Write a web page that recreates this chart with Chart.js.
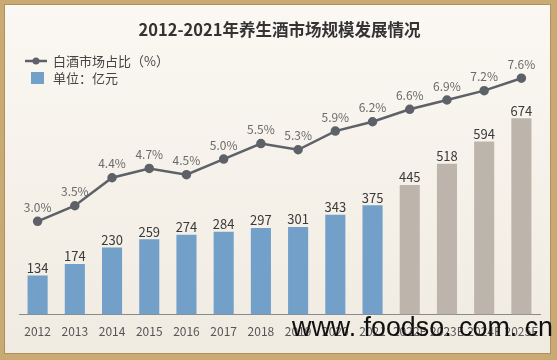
<!DOCTYPE html>
<html><head><meta charset="utf-8">
<script src="https://cdn.jsdelivr.net/npm/chart.js@4/dist/chart.umd.min.js"></script>
<style>html,body{margin:0;padding:0;background:#c9aa72;}#wrap{width:557px;height:360px;}</style>
</head><body><div id="wrap"><canvas id="c" width="557" height="360"></canvas></div>
<script>
const categories = ['2012','2013','2014','2015','2016','2017','2018','2019','2020','2021','2022E','2023E','2024E','2025E'];
const marketSize = [134,174,230,259,274,284,297,301,343,375,445,518,594,674];
const baijiuShare = [3.0,3.5,4.4,4.7,4.5,5.0,5.5,5.3,5.9,6.2,6.6,6.9,7.2,7.6];
const forecastFrom = 10;
const titleText = '2012-2021年养生酒市场规模发展情况';
const legendLine = '白酒市场占比（%）';
const legendBar = '单位：亿元';
const watermark = 'www. foodso. com. cn';

const FONT = '"Noto Sans CJK SC","Noto Sans",sans-serif';
const barColors = marketSize.map((v,i)=> i<forecastFrom ? '#72a0c8' : '#bdb5ab');

const bgPlugin = {
  id:'bg',
  beforeDraw(chart){
    const ctx = chart.ctx, W = chart.width, H = chart.height;
    ctx.save();
    ctx.fillStyle = '#c9aa72';
    ctx.fillRect(0,0,W,H);
    const g = ctx.createLinearGradient(0,0,0,H);
    g.addColorStop(0,'#fbf8f3');
    g.addColorStop(1,'#f0ebe1');
    ctx.fillStyle = g;
    ctx.fillRect(4,4,W-10,H-10);
    ctx.strokeStyle = '#b08f5a';
    ctx.lineWidth = 1;
    ctx.strokeRect(4.5,4.5,W-11,H-11);
    ctx.restore();
  },
  afterDatasetsDraw(chart){
    const ctx = chart.ctx;
    ctx.save();
    const barMeta = chart.getDatasetMeta(0);
    ctx.font = '13px ' + FONT;
    ctx.fillStyle = '#3a3a3a';
    ctx.textAlign = 'center';
    ctx.textBaseline = 'bottom';
    barMeta.data.forEach((el,i)=>{
      ctx.fillText(String(marketSize[i]), el.x, el.y - 1);
    });
    const lineMeta = chart.getDatasetMeta(1);
    ctx.font = '12px ' + FONT;
    ctx.fillStyle = '#6a6a6a';
    lineMeta.data.forEach((el,i)=>{
      ctx.fillText(baijiuShare[i].toFixed(1)+'%', el.x, el.y - 8);
    });
    ctx.strokeStyle = '#5d6168';
    ctx.lineWidth = 2.5;
    ctx.beginPath(); ctx.moveTo(25,61); ctx.lineTo(47,61); ctx.stroke();
    ctx.fillStyle = '#5d6168';
    ctx.beginPath(); ctx.arc(36,61,3.5,0,Math.PI*2); ctx.fill();
    ctx.fillStyle = '#72a0c8';
    ctx.fillRect(31,72,13,12);
    ctx.font = '13px ' + FONT;
    ctx.fillStyle = '#444';
    ctx.textAlign = 'left';
    ctx.textBaseline = 'middle';
    ctx.fillText(legendLine, 53, 61);
    ctx.fillText(legendBar, 53, 78);
    ctx.restore();
  },
  afterDraw(chart){
    const ctx = chart.ctx;
    ctx.save();
    ctx.font = '28px "Liberation Sans",sans-serif';
    ctx.fillStyle = '#111';
    ctx.textBaseline = 'alphabetic';
    ctx.textAlign = 'left';
    const w = ctx.measureText(watermark).width;
    ctx.translate(292, 336);
    ctx.scale(261 / w, 1);
    ctx.fillText(watermark, 0, 0);
    ctx.restore();
  }
};

new Chart(document.getElementById('c'), {
  data: {
    labels: categories,
    datasets: [
      { type:'bar', label: legendBar, data: marketSize, backgroundColor: barColors,
        yAxisID:'y', order:2, categoryPercentage:1.0, barPercentage:0.54 },
      { type:'line', label: legendLine, data: baijiuShare, borderColor:'#5d6168',
        backgroundColor:'#5d6168', borderWidth:2.5, pointRadius:3.5, pointHoverRadius:3.5,
        fill:false, tension:0, yAxisID:'y2', order:1 }
    ]
  },
  options: {
    responsive:false, animation:false,
    layout:{ padding:{ left:19, right:17, top:0, bottom:19 } },
    plugins:{
      legend:{ display:false },
      tooltip:{ enabled:false },
      title:{ display:true, text:titleText, color:'#333',
        font:{ family:FONT, size:16.5, weight:'bold' }, padding:{ top:20, bottom:7 } }
    },
    scales:{
      x:{ offset:true, grid:{ display:false }, border:{ color:'#8a8a8a', width:1 },
        ticks:{ color:'#555', font:{ family:FONT, size:12 }, padding:2, maxRotation:0, autoSkip:false } },
      y:{ display:false, min:0, max:919 },
      y2:{ display:false, min:0, max:8.61, position:'right' }
    }
  },
  plugins:[bgPlugin]
});
</script></body></html>
